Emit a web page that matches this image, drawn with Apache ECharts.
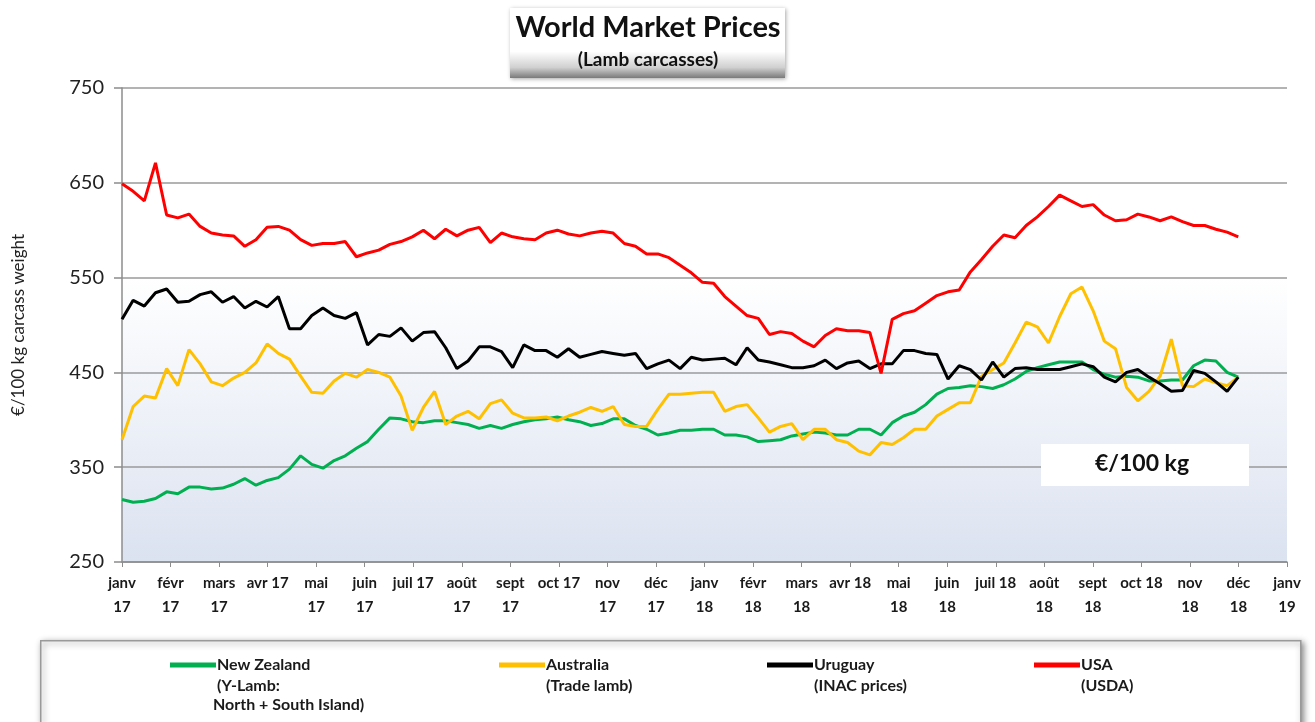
<!DOCTYPE html>
<html>
<head>
<meta charset="utf-8">
<title>World Market Prices</title>
<script src="https://cdn.jsdelivr.net/npm/echarts@6/dist/echarts.min.js"></script>
<style>
  html, body { margin: 0; padding: 0; background: #fff; }
  #main { width: 1315px; height: 722px; }
</style>
</head>
<body>
<div id="main"></div>
<script type="text/javascript">
// month tick labels, janv 17 .. janv 19
var monthLabels = ['janv\n17', 'févr\n17', 'mars\n17', 'avr 17', 'mai\n17', 'juin\n17', 'juil 17', 'août\n17',
    'sept\n17', 'oct 17', 'nov\n17', 'déc\n17', 'janv\n18', 'févr\n18', 'mars\n18', 'avr 18', 'mai\n18',
    'juin\n18', 'juil 18', 'août\n18', 'sept\n18', 'oct 18', 'nov\n18', 'déc\n18', 'janv\n19'];

// weekly prices, €/100 kg, first week of janv 17 onward
var newZealand = [316, 313, 314, 317, 324, 322, 329, 329, 327, 328, 332, 338, 331, 336, 339, 348, 362, 353, 349, 357,
    362, 370, 377, 390, 402, 401, 398, 397, 399, 399, 397, 395, 391, 394, 391, 395, 398, 400, 401, 403,
    400, 398, 394, 396, 401, 401, 394, 390, 384, 386, 389, 389, 390, 390, 384, 384, 382, 377, 378, 379,
    383, 385, 387, 386, 384, 384, 390, 390, 384, 397, 404, 408, 416, 427, 433, 434, 436, 435, 433, 437,
    443, 451, 455, 458, 461, 461, 461, 453, 448, 445, 446, 445, 441, 441, 442, 442, 457, 463, 462, 450, 445];
var australia = [379, 414, 425, 423, 454, 436, 474, 459, 440, 436, 444, 450, 460, 480, 470, 464, 446, 429, 428, 441,
    449, 445, 453, 450, 445, 425, 389, 413, 430, 395, 404, 409, 401, 417, 421, 407, 402, 402, 403, 399,
    404, 408, 413, 409, 414, 395, 393, 393, 411, 427, 427, 428, 429, 429, 409, 414, 416, 402, 387, 393,
    396, 379, 390, 390, 379, 376, 367, 363, 376, 374, 381, 390, 390, 404, 411, 418, 418, 446, 453, 460,
    481, 503, 498, 481, 509, 533, 540, 515, 483, 475, 434, 420, 430, 446, 485, 436, 435, 443, 439, 436, 445];
var uruguay = [506, 526, 520, 534, 538, 524, 525, 532, 535, 524, 530, 518, 525, 519, 530, 496, 496, 510, 518, 510,
    507, 513, 479, 490, 488, 497, 483, 492, 493, 476, 454, 462, 477, 477, 472, 455, 479, 473, 473, 466,
    475, 466, 469, 472, 470, 468, 470, 454, 459, 463, 454, 466, 463, 464, 465, 458, 476, 463, 461, 458,
    455, 455, 457, 463, 454, 460, 462, 454, 459, 459, 473, 473, 470, 469, 443, 457, 453, 442, 461, 445,
    454, 455, 453, 453, 453, 456, 459, 456, 445, 440, 450, 453, 445, 438, 430, 431, 452, 449, 440, 430, 445];
var usa = [649, 641, 631, 671, 616, 613, 617, 604, 597, 595, 594, 583, 590, 603, 604, 600, 590, 584, 586, 586,
    588, 572, 576, 579, 585, 588, 593, 600, 591, 601, 594, 600, 603, 587, 597, 593, 591, 590, 597, 600,
    596, 594, 597, 599, 597, 586, 583, 575, 575, 571, 563, 555, 545, 544, 530, 520, 510, 507, 490, 493,
    491, 483, 477, 489, 496, 494, 494, 492, 449, 506, 512, 515, 523, 531, 535, 537, 556, 569, 583, 595,
    592, 605, 614, 625, 637, 631, 625, 627, 616, 610, 611, 617, 614, 610, 614, 609, 605, 605, 601, 598, 593];

var seriesNames = ['New Zealand', 'Australia', 'Uruguay', 'USA'];
var seriesNotes = [['(Y-Lamb:', 'North + South Island)'], ['(Trade lamb)'], ['(INAC prices)'], ['(USDA)']];
var seriesColors = ['#00b050', '#ffc000', '#000000', '#ff0000'];
var seriesValues = [newZealand, australia, uruguay, usa];

// week index -> position in months from janv 17
function toPoints(values) {
    return values.map(function (v, i) { return [i * 7 / 30.44, v]; });
}

var FONT = 'Lato, "Open Sans", sans-serif';
var myChart = echarts.init(document.getElementById('main'));

var legendX = [165, 494, 762, 1029];
var legends = seriesNames.map(function (name, k) {
    return {
        data: [name],
        left: legendX[k],
        top: 652,
        icon: 'rect',
        itemWidth: 46,
        itemHeight: 5,
        selectedMode: false,
        textStyle: { fontFamily: FONT, fontWeight: 'bold', fontSize: 16, color: '#1a1a1a', padding: [0, 0, 0, -4] }
    };
});

var graphics = [
    // title box
    {
        type: 'rect', left: 510, top: 8, z: 10,
        shape: { width: 275, height: 70 },
        style: {
            fill: new echarts.graphic.LinearGradient(0, 0, 0, 1, [
                { offset: 0, color: '#ffffff' }, { offset: 0.62, color: '#ffffff' },
                { offset: 0.85, color: '#d0d0d0' }, { offset: 1, color: '#7a7a7a' }]),
            shadowBlur: 4, shadowColor: 'rgba(0,0,0,0.35)', shadowOffsetX: 1, shadowOffsetY: 1
        }
    },
    {
        type: 'text', x: 648, y: 13, z: 11,
        style: { text: 'World Market Prices', font: 'bold 29px ' + FONT, fill: '#111', textAlign: 'center' }
    },
    {
        type: 'text', x: 648, y: 50, z: 11,
        style: { text: '(Lamb carcasses)', font: 'bold 19px ' + FONT, fill: '#111', textAlign: 'center' }
    },
    // unit box
    {
        type: 'rect', left: 1041, top: 444, z: 10,
        shape: { width: 208, height: 42 },
        style: { fill: '#ffffff' }
    },
    {
        type: 'text', x: 1142, y: 452, z: 11,
        style: { text: '€/100 kg', font: 'bold 23px ' + FONT, fill: '#111', textAlign: 'center' }
    },
    // legend box
    {
        type: 'rect', left: 40, top: 640, z: 0,
        shape: { width: 1260, height: 100 },
        style: {
            fill: '#ffffff', stroke: '#9a9a9a', lineWidth: 1.5,
            shadowBlur: 6, shadowColor: 'rgba(0,0,0,0.45)', shadowOffsetX: 2, shadowOffsetY: 2
        }
    }
];
seriesNotes.forEach(function (lines, k) {
    lines.forEach(function (t, j) {
        graphics.push({
            type: 'text', left: legendX[k] + 49 + (k === 0 && j === 1 ? -1 : 3), top: 678 + j * 19, z: 5,
            style: { text: t, font: 'bold 16px ' + FONT, fill: '#1a1a1a' }
        });
    });
});

myChart.setOption({
    animation: false,
    backgroundColor: '#ffffff',
    grid: {
        left: 122, right: 28, top: 88, bottom: 160,
        show: true, borderWidth: 0,
        backgroundColor: new echarts.graphic.LinearGradient(0, 0, 0, 1, [
            { offset: 0, color: '#ffffff' }, { offset: 0.4, color: '#ffffff' },
            { offset: 1, color: '#dbe2f0' }])
    },
    legend: legends,
    graphic: graphics,
    xAxis: {
        type: 'value', min: 0, max: 24, interval: 1,
        axisLine: { show: true, onZero: false, lineStyle: { color: '#8c8c8c', width: 1.5 } },
        axisTick: { show: true, length: 5, lineStyle: { color: '#8c8c8c' } },
        splitLine: { show: false },
        axisLabel: {
            margin: 9, lineHeight: 24,
            fontFamily: FONT, fontWeight: 'bold', fontSize: 15, color: '#1a1a1a',
            formatter: function (v) { return monthLabels[Math.round(v)]; }
        }
    },
    yAxis: {
        type: 'value', min: 250, max: 750, interval: 100,
        name: '€/100 kg carcass weight', nameLocation: 'middle', nameGap: 95, nameRotate: 90,
        nameTextStyle: { fontFamily: FONT, fontSize: 17, color: '#222' },
        axisLine: { show: true, lineStyle: { color: '#8c8c8c', width: 1.5 } },
        axisTick: { show: true, length: 8, lineStyle: { color: '#8c8c8c', width: 1.5 } },
        splitLine: { show: true, lineStyle: { color: '#9a9a9a', width: 1.5 } },
        axisLabel: { margin: 18, fontFamily: FONT, fontSize: 20, color: '#222' }
    },
    series: seriesNames.map(function (name, k) {
        return {
            name: name,
            type: 'line',
            data: toPoints(seriesValues[k]),
            showSymbol: false,
            color: seriesColors[k],
            lineStyle: { width: 3, color: seriesColors[k] },
            z: 2 + k
        };
    })
});
</script>
</body>
</html>
